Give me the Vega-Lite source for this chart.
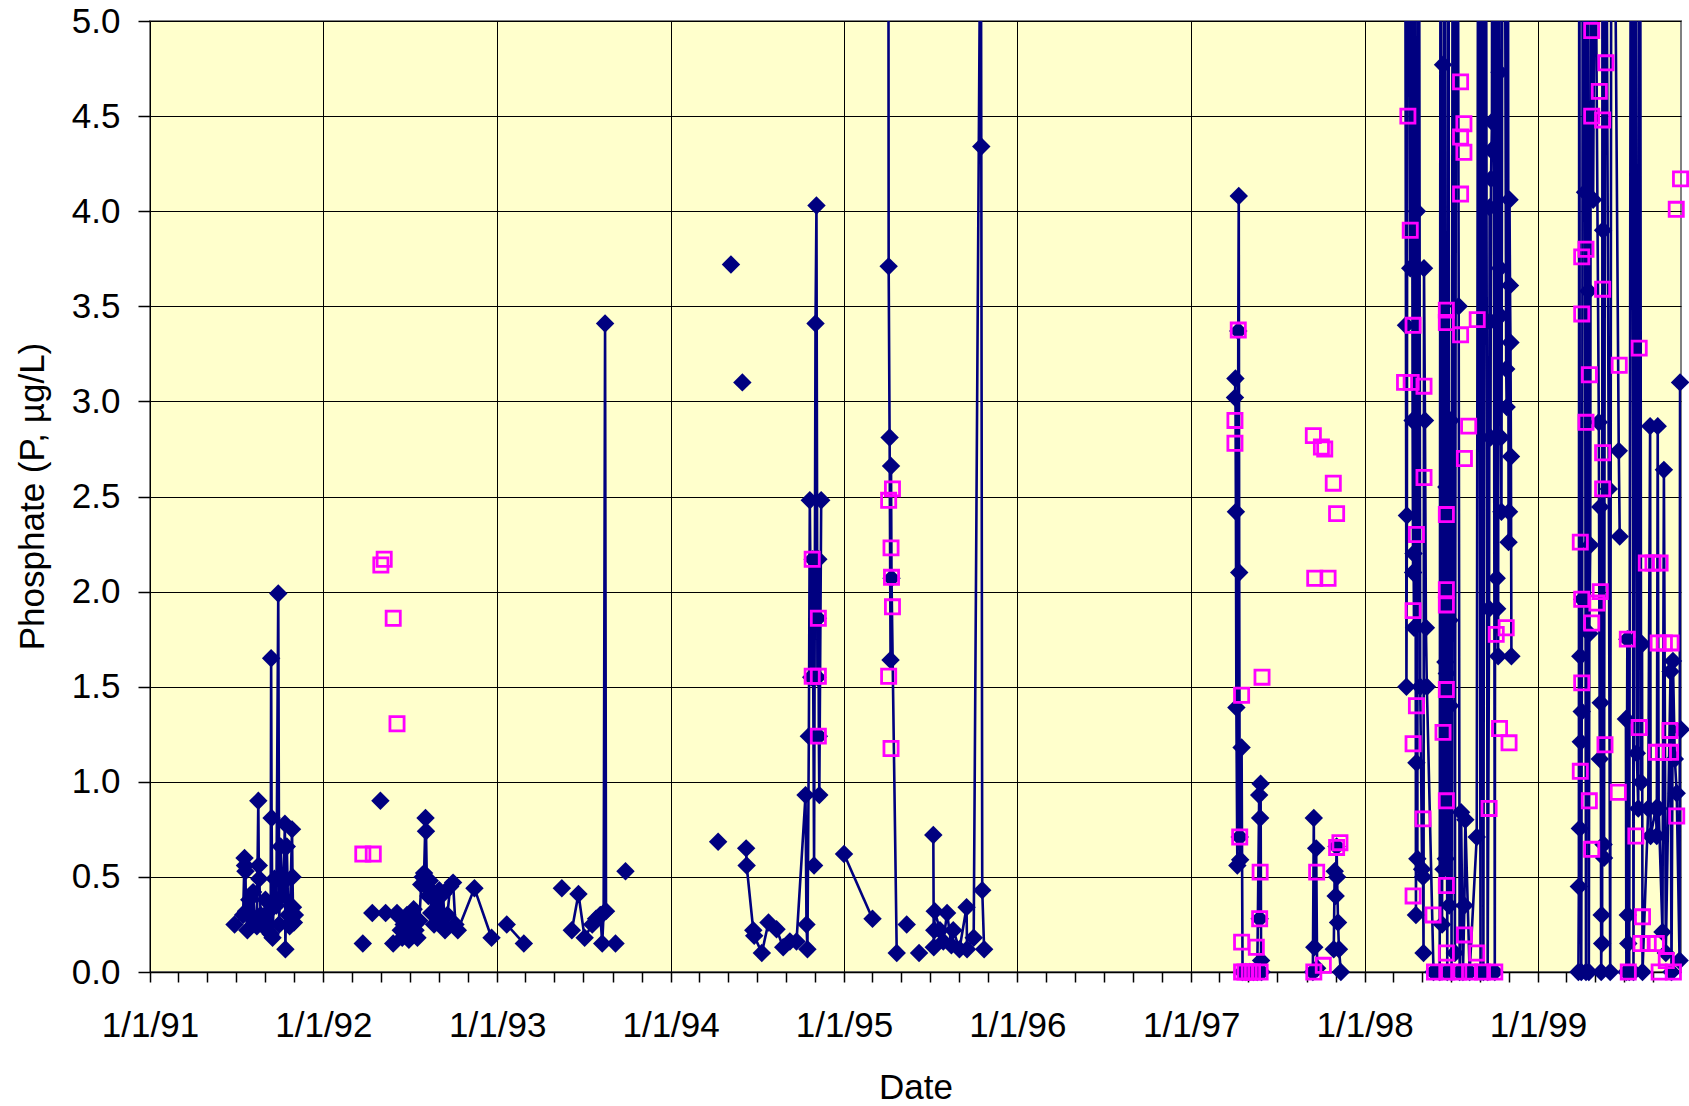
{
 "$schema": "https://vega.github.io/schema/vega-lite/v6.json",
 "width": 1531, "height": 951,
 "autosize": {"type": "none"},
 "padding": {"left": 150, "top": 21, "right": 8, "bottom": 134},
 "background": "white",
 "config": {
  "view": {"fill": "#FFFFCC", "stroke": "#808080", "strokeWidth": 2},
  "font": "Liberation Sans",
  "axis": {"labelFont": "Liberation Sans", "titleFont": "Liberation Sans", "labelColor": "black", "titleColor": "black", "labelFontSize": 35, "titleFontSize": 35, "titleFontWeight": "normal", "tickColor": "black", "gridColor": "black", "gridWidth": 1, "gridOpacity": 1, "domainColor": "black"}
 },
 "datasets": {
  "navy": [
   {"date":"1991-06-28","P":0.25,"seg":"A"},{"date":"1991-07-16","P":0.30,"seg":"A"},{"date":"1991-07-19","P":0.60,"seg":"A"},{"date":"1991-07-20","P":0.56,"seg":"A"},{"date":"1991-07-21","P":0.53,"seg":"A"},{"date":"1991-07-22","P":0.32,"seg":"A"},{"date":"1991-07-25","P":0.22,"seg":"A"},{"date":"1991-07-29","P":0.38,"seg":"A"},{"date":"1991-08-02","P":0.30,"seg":"A"},{"date":"1991-08-06","P":0.42,"seg":"A"},{"date":"1991-08-10","P":0.27,"seg":"A"},{"date":"1991-08-14","P":0.24,"seg":"A"},{"date":"1991-08-17","P":0.90,"seg":"A"},{"date":"1991-08-18","P":0.56,"seg":"A"},{"date":"1991-08-19","P":0.49,"seg":"A"},{"date":"1991-08-22","P":0.30,"seg":"A"},{"date":"1991-08-27","P":0.25,"seg":"A"},{"date":"1991-09-01","P":0.38,"seg":"A"},{"date":"1991-09-05","P":0.22,"seg":"A"},{"date":"1991-09-09","P":0.32,"seg":"A"},{"date":"1991-09-12","P":0.20,"seg":"A"},{"date":"1991-09-13","P":1.65,"seg":"A"},{"date":"1991-09-14","P":0.81,"seg":"A"},{"date":"1991-09-16","P":0.18,"seg":"A"},{"date":"1991-09-20","P":0.49,"seg":"A"},{"date":"1991-09-24","P":0.35,"seg":"A"},{"date":"1991-09-28","P":1.99,"seg":"A"},{"date":"1991-09-30","P":0.25,"seg":"A"},{"date":"1991-10-03","P":0.66,"seg":"A"},{"date":"1991-10-06","P":0.40,"seg":"A"},{"date":"1991-10-09","P":0.47,"seg":"A"},{"date":"1991-10-12","P":0.78,"seg":"A"},{"date":"1991-10-13","P":0.12,"seg":"A"},{"date":"1991-10-16","P":0.66,"seg":"A"},{"date":"1991-10-19","P":0.30,"seg":"A"},{"date":"1991-10-22","P":0.24,"seg":"A"},{"date":"1991-10-27","P":0.75,"seg":"A"},{"date":"1991-10-28","P":0.50,"seg":"A"},{"date":"1991-10-29","P":0.34,"seg":"A"},{"date":"1991-10-31","P":0.26,"seg":"A"},{"date":"1991-11-02","P":0.30,"seg":"A"},
   {"date":"1992-03-24","P":0.15,"seg":"i1"},{"date":"1992-04-13","P":0.31,"seg":"i2"},{"date":"1992-04-30","P":0.90,"seg":"i3"},{"date":"1992-05-11","P":0.31,"seg":"i4"},{"date":"1992-05-27","P":0.15,"seg":"i5"},{"date":"1992-06-04","P":0.31,"seg":"i6"},
   {"date":"1992-06-08","P":0.29,"seg":"B"},{"date":"1992-06-12","P":0.22,"seg":"B"},{"date":"1992-06-15","P":0.18,"seg":"B"},{"date":"1992-06-18","P":0.25,"seg":"B"},{"date":"1992-06-22","P":0.20,"seg":"B"},{"date":"1992-06-25","P":0.30,"seg":"B"},{"date":"1992-06-29","P":0.17,"seg":"B"},{"date":"1992-07-02","P":0.24,"seg":"B"},{"date":"1992-07-06","P":0.19,"seg":"B"},{"date":"1992-07-09","P":0.33,"seg":"B"},{"date":"1992-07-13","P":0.22,"seg":"B"},{"date":"1992-07-17","P":0.18,"seg":"B"},{"date":"1992-07-21","P":0.27,"seg":"B"},{"date":"1992-07-25","P":0.46,"seg":"B"},{"date":"1992-07-28","P":0.50,"seg":"B"},{"date":"1992-07-31","P":0.52,"seg":"B"},{"date":"1992-08-03","P":0.81,"seg":"B"},{"date":"1992-08-04","P":0.74,"seg":"B"},{"date":"1992-08-06","P":0.45,"seg":"B"},{"date":"1992-08-09","P":0.40,"seg":"B"},{"date":"1992-08-12","P":0.48,"seg":"B"},{"date":"1992-08-15","P":0.31,"seg":"B"},{"date":"1992-08-18","P":0.42,"seg":"B"},{"date":"1992-08-21","P":0.25,"seg":"B"},{"date":"1992-08-25","P":0.38,"seg":"B"},{"date":"1992-08-28","P":0.30,"seg":"B"},{"date":"1992-09-01","P":0.43,"seg":"B"},{"date":"1992-09-05","P":0.26,"seg":"B"},{"date":"1992-09-09","P":0.41,"seg":"B"},{"date":"1992-09-13","P":0.22,"seg":"B"},{"date":"1992-09-18","P":0.30,"seg":"B"},{"date":"1992-09-24","P":0.45,"seg":"B"},{"date":"1992-09-30","P":0.47,"seg":"B"},{"date":"1992-10-05","P":0.25,"seg":"B"},{"date":"1992-10-10","P":0.22,"seg":"B"},{"date":"1992-11-14","P":0.44,"seg":"B"},{"date":"1992-12-20","P":0.18,"seg":"B"},
   {"date":"1993-01-21","P":0.25,"seg":"C"},{"date":"1993-02-26","P":0.15,"seg":"C"},
   {"date":"1993-05-17","P":0.44,"seg":"i7"},
   {"date":"1993-06-07","P":0.22,"seg":"D"},{"date":"1993-06-21","P":0.41,"seg":"D"},{"date":"1993-07-04","P":0.18,"seg":"D"},{"date":"1993-07-20","P":0.25,"seg":"D"},{"date":"1993-07-28","P":0.28,"seg":"D"},{"date":"1993-08-06","P":0.30,"seg":"D"},{"date":"1993-08-10","P":0.15,"seg":"D"},{"date":"1993-08-13","P":0.31,"seg":"D"},{"date":"1993-08-16","P":3.41,"seg":"D"},{"date":"1993-08-18","P":0.32,"seg":"D"},
   {"date":"1993-09-07","P":0.15,"seg":"i8"},{"date":"1993-09-28","P":0.53,"seg":"i9"},
   {"date":"1994-04-11","P":0.685,"seg":"i10"},{"date":"1994-05-08","P":3.72,"seg":"i11"},{"date":"1994-06-01","P":3.10,"seg":"i12"},
   {"date":"1994-06-09","P":0.65,"seg":"E"},{"date":"1994-06-10","P":0.56,"seg":"E"},{"date":"1994-06-24","P":0.22,"seg":"E"},{"date":"1994-06-26","P":0.19,"seg":"E"},{"date":"1994-07-12","P":0.10,"seg":"E"},{"date":"1994-07-26","P":0.26,"seg":"E"},{"date":"1994-08-12","P":0.225,"seg":"E"},{"date":"1994-08-26","P":0.13,"seg":"E"},{"date":"1994-09-09","P":0.16,"seg":"E"},{"date":"1994-09-23","P":0.16,"seg":"E"},{"date":"1994-10-12","P":0.93,"seg":"E"},{"date":"1994-10-14","P":0.25,"seg":"E"},{"date":"1994-10-16","P":0.12,"seg":"E"},{"date":"1994-10-19","P":1.24,"seg":"E"},{"date":"1994-10-21","P":2.48,"seg":"E"},{"date":"1994-10-24","P":1.55,"seg":"E"},{"date":"1994-10-27","P":2.17,"seg":"E"},{"date":"1994-10-30","P":0.56,"seg":"E"},{"date":"1994-11-02","P":3.41,"seg":"E"},{"date":"1994-11-04","P":4.03,"seg":"E"},{"date":"1994-11-06","P":1.55,"seg":"E"},{"date":"1994-11-07","P":1.86,"seg":"E"},{"date":"1994-11-08","P":2.17,"seg":"E"},{"date":"1994-11-09","P":1.24,"seg":"E"},{"date":"1994-11-10","P":0.93,"seg":"E"},{"date":"1994-11-14","P":2.48,"seg":"E"},
   {"date":"1995-01-01","P":0.62,"seg":"F"},{"date":"1995-03-02","P":0.28,"seg":"F"},
   {"date":"1995-04-04","P":7.5,"seg":"G"},{"date":"1995-04-05","P":3.71,"seg":"G"},{"date":"1995-04-07","P":2.81,"seg":"G"},{"date":"1995-04-09","P":1.64,"seg":"G"},{"date":"1995-04-10","P":2.66,"seg":"G"},{"date":"1995-04-11","P":2.07,"seg":"G"},{"date":"1995-04-22","P":0.10,"seg":"G"},
   {"date":"1995-05-13","P":0.25,"seg":"i13"},{"date":"1995-06-08","P":0.10,"seg":"i14"},
   {"date":"1995-07-08","P":0.72,"seg":"H"},{"date":"1995-07-09","P":0.13,"seg":"H"},{"date":"1995-07-10","P":0.22,"seg":"H"},{"date":"1995-07-11","P":0.32,"seg":"H"},{"date":"1995-07-22","P":0.22,"seg":"H"},{"date":"1995-07-29","P":0.16,"seg":"H"},{"date":"1995-08-06","P":0.31,"seg":"H"},{"date":"1995-08-15","P":0.14,"seg":"H"},{"date":"1995-08-19","P":0.22,"seg":"H"},{"date":"1995-09-01","P":0.12,"seg":"H"},{"date":"1995-09-16","P":0.34,"seg":"H"},{"date":"1995-09-17","P":0.12,"seg":"H"},{"date":"1995-10-01","P":0.18,"seg":"H"},{"date":"1995-10-16","P":6.0,"seg":"H"},{"date":"1995-10-17","P":4.34,"seg":"H"},{"date":"1995-10-19","P":0.43,"seg":"H"},{"date":"1995-10-23","P":0.12,"seg":"H"},
   {"date":"1997-04-03","P":3.02,"seg":"I"},{"date":"1997-04-04","P":3.12,"seg":"I"},{"date":"1997-04-05","P":2.42,"seg":"I"},{"date":"1997-04-06","P":1.39,"seg":"I"},{"date":"1997-04-08","P":0.56,"seg":"I"},{"date":"1997-04-10","P":3.37,"seg":"I"},{"date":"1997-04-11","P":4.08,"seg":"I"},{"date":"1997-04-12","P":2.10,"seg":"I"},{"date":"1997-04-13","P":0.71,"seg":"I"},{"date":"1997-04-14","P":0.59,"seg":"I"},{"date":"1997-04-17","P":1.18,"seg":"I"},{"date":"1997-04-19","P":0.0,"seg":"I"},{"date":"1997-04-26","P":0.0,"seg":"I"},{"date":"1997-05-04","P":0.0,"seg":"I"},{"date":"1997-05-12","P":0.0,"seg":"I"},{"date":"1997-05-20","P":0.0,"seg":"I"},{"date":"1997-05-24","P":0.93,"seg":"I"},{"date":"1997-05-25","P":0.28,"seg":"I"},{"date":"1997-05-26","P":0.81,"seg":"I"},{"date":"1997-05-27","P":0.99,"seg":"I"},{"date":"1997-05-28","P":0.06,"seg":"I"},{"date":"1997-05-29","P":0.0,"seg":"I"},
   {"date":"1997-09-14","P":0.0,"seg":"J"},{"date":"1997-09-16","P":0.81,"seg":"J"},{"date":"1997-09-17","P":0.13,"seg":"J"},{"date":"1997-09-21","P":0.65,"seg":"J"},{"date":"1997-09-23","P":0.02,"seg":"J"},
   {"date":"1997-10-28","P":0.12,"seg":"K"},{"date":"1997-10-30","P":0.53,"seg":"K"},{"date":"1997-11-01","P":0.40,"seg":"K"},{"date":"1997-11-03","P":0.66,"seg":"K"},{"date":"1997-11-04","P":0.50,"seg":"K"},{"date":"1997-11-06","P":0.26,"seg":"K"},{"date":"1997-11-08","P":0.12,"seg":"K"},{"date":"1997-11-12","P":0.0,"seg":"K"},
   {"date":"1998-03-26","P":8.0,"seg":"L"},{"date":"1998-03-29","P":3.40,"seg":"L"},{"date":"1998-03-30","P":1.50,"seg":"L"},{"date":"1998-03-31","P":2.40,"seg":"L"},{"date":"1998-04-02","P":9.0,"seg":"L"},{"date":"1998-04-04","P":7.0,"seg":"L"},{"date":"1998-04-07","P":3.70,"seg":"L"},{"date":"1998-04-09","P":8.5,"seg":"L"},{"date":"1998-04-12","P":2.90,"seg":"L"},{"date":"1998-04-13","P":2.10,"seg":"L"},{"date":"1998-04-14","P":2.20,"seg":"L"},{"date":"1998-04-15","P":1.81,"seg":"L"},{"date":"1998-04-17","P":6.5,"seg":"L"},{"date":"1998-04-19","P":0.30,"seg":"L"},{"date":"1998-04-20","P":1.10,"seg":"L"},{"date":"1998-04-21","P":4.00,"seg":"L"},{"date":"1998-04-22","P":0.595,"seg":"L"},{"date":"1998-04-24","P":9.0,"seg":"L"},{"date":"1998-04-28","P":1.50,"seg":"L"},{"date":"1998-05-02","P":0.54,"seg":"L"},{"date":"1998-05-04","P":0.50,"seg":"L"},{"date":"1998-05-05","P":0.10,"seg":"L"},{"date":"1998-05-06","P":3.70,"seg":"L"},{"date":"1998-05-08","P":2.90,"seg":"L"},{"date":"1998-05-10","P":1.81,"seg":"L"},{"date":"1998-05-12","P":1.50,"seg":"L"},{"date":"1998-05-26","P":0.0,"seg":"L"},{"date":"1998-06-08","P":0.0,"seg":"L"},
   {"date":"1998-06-10","P":7.0,"seg":"L"},{"date":"1998-06-13","P":0.25,"seg":"L"},{"date":"1998-06-15","P":4.77,"seg":"L"},{"date":"1998-06-16","P":0.54,"seg":"L"},{"date":"1998-06-18","P":8.5,"seg":"L"},{"date":"1998-06-20","P":1.63,"seg":"L"},{"date":"1998-06-21","P":0.595,"seg":"L"},{"date":"1998-06-22","P":2.55,"seg":"L"},{"date":"1998-06-23","P":1.57,"seg":"L"},{"date":"1998-06-24","P":0.0,"seg":"L"},{"date":"1998-06-26","P":9.0,"seg":"L"},{"date":"1998-06-28","P":0.35,"seg":"L"},{"date":"1998-06-29","P":1.85,"seg":"L"},{"date":"1998-06-30","P":1.40,"seg":"L"},{"date":"1998-07-01","P":2.90,"seg":"L"},{"date":"1998-07-03","P":0.0,"seg":"L"},{"date":"1998-07-06","P":8.0,"seg":"L"},{"date":"1998-07-10","P":0.10,"seg":"L"},{"date":"1998-07-14","P":9.0,"seg":"L"},{"date":"1998-07-18","P":3.50,"seg":"L"},{"date":"1998-07-20","P":0.0,"seg":"L"},{"date":"1998-07-23","P":0.84,"seg":"L"},{"date":"1998-07-27","P":0.0,"seg":"L"},{"date":"1998-07-30","P":0.35,"seg":"L"},{"date":"1998-08-01","P":0.80,"seg":"L"},{"date":"1998-08-10","P":0.0,"seg":"L"},{"date":"1998-08-25","P":0.71,"seg":"L"},
   {"date":"1998-08-29","P":8.0,"seg":"L"},{"date":"1998-09-02","P":0.0,"seg":"L"},{"date":"1998-09-05","P":9.0,"seg":"L"},{"date":"1998-09-08","P":0.0,"seg":"L"},{"date":"1998-09-12","P":8.5,"seg":"L"},{"date":"1998-09-17","P":0.0,"seg":"L"},{"date":"1998-09-20","P":1.91,"seg":"L"},{"date":"1998-09-21","P":4.02,"seg":"L"},{"date":"1998-09-22","P":3.42,"seg":"L"},{"date":"1998-09-23","P":2.81,"seg":"L"},{"date":"1998-09-24","P":4.17,"seg":"L"},{"date":"1998-09-25","P":4.32,"seg":"L"},{"date":"1998-09-26","P":4.47,"seg":"L"},{"date":"1998-09-28","P":9.0,"seg":"L"},{"date":"1998-10-02","P":0.0,"seg":"L"},{"date":"1998-10-04","P":7.5,"seg":"L"},{"date":"1998-10-06","P":2.07,"seg":"L"},{"date":"1998-10-07","P":1.91,"seg":"L"},{"date":"1998-10-09","P":1.66,"seg":"L"},{"date":"1998-10-11","P":8.0,"seg":"L"},{"date":"1998-10-12","P":4.73,"seg":"L"},{"date":"1998-10-13","P":3.70,"seg":"L"},{"date":"1998-10-14","P":3.45,"seg":"L"},{"date":"1998-10-15","P":2.81,"seg":"L"},{"date":"1998-10-16","P":2.42,"seg":"L"},{"date":"1998-10-20","P":9.0,"seg":"L"},{"date":"1998-10-26","P":3.17,"seg":"L"},{"date":"1998-10-27","P":2.97,"seg":"L"},{"date":"1998-10-29","P":8.0,"seg":"L"},{"date":"1998-10-31","P":2.26,"seg":"L"},{"date":"1998-11-01","P":2.42,"seg":"L"},{"date":"1998-11-02","P":4.06,"seg":"L"},{"date":"1998-11-03","P":3.61,"seg":"L"},{"date":"1998-11-04","P":3.31,"seg":"L"},{"date":"1998-11-05","P":2.71,"seg":"L"},{"date":"1998-11-06","P":1.66,"seg":"L"},
   {"date":"1999-03-27","P":0.0,"seg":"O1"},{"date":"1999-03-28","P":0.45,"seg":"O1"},{"date":"1999-03-29","P":8.0,"seg":"O1"},{"date":"1999-03-30","P":0.755,"seg":"O1"},{"date":"1999-03-31","P":1.66,"seg":"O1"},{"date":"1999-04-01","P":1.21,"seg":"O1"},{"date":"1999-04-02","P":0.0,"seg":"O1"},{"date":"1999-04-03","P":1.37,"seg":"O1"},{"date":"1999-04-04","P":1.96,"seg":"O1"},{"date":"1999-04-06","P":9.0,"seg":"O1"},{"date":"1999-04-10","P":4.10,"seg":"O1"},{"date":"1999-04-12","P":0.0,"seg":"O1"},{"date":"1999-04-14","P":7.5,"seg":"O1"},{"date":"1999-04-17","P":3.58,"seg":"O1"},{"date":"1999-04-18","P":0.0,"seg":"O1"},{"date":"1999-04-19","P":1.78,"seg":"O1"},{"date":"1999-04-21","P":2.245,"seg":"O1"},{"date":"1999-04-23","P":8.5,"seg":"O1"},{"date":"1999-04-27","P":4.06,"seg":"O1"},{"date":"1999-05-01","P":6.0,"seg":"O1"},{"date":"1999-05-09","P":2.89,"seg":"O1"},{"date":"1999-05-11","P":1.12,"seg":"O1"},{"date":"1999-05-12","P":2.445,"seg":"O1"},{"date":"1999-05-13","P":1.415,"seg":"O1"},{"date":"1999-05-14","P":0.0,"seg":"O1"},{"date":"1999-05-15","P":0.30,"seg":"O1"},{"date":"1999-05-16","P":0.15,"seg":"O1"},{"date":"1999-05-17","P":9.0,"seg":"O1"},{"date":"1999-05-18","P":3.90,"seg":"O1"},{"date":"1999-05-19","P":0.67,"seg":"O1"},{"date":"1999-05-20","P":0.60,"seg":"O1"},{"date":"1999-05-23","P":7.0,"seg":"O1"},{"date":"1999-05-30","P":2.54,"seg":"O1"},{"date":"1999-06-02","P":0.0,"seg":"O1"},{"date":"1999-06-05","P":8.0,"seg":"O1"},{"date":"1999-06-20","P":2.74,"seg":"O1"},{"date":"1999-06-22","P":2.29,"seg":"O1"},
   {"date":"1999-07-05","P":1.33,"seg":"O2"},{"date":"1999-07-06","P":0.0,"seg":"O2"},{"date":"1999-07-08","P":1.75,"seg":"O2"},{"date":"1999-07-09","P":0.30,"seg":"O2"},{"date":"1999-07-10","P":0.15,"seg":"O2"},{"date":"1999-07-12","P":0.0,"seg":"O2"},{"date":"1999-07-17","P":9.0,"seg":"O2"},{"date":"1999-07-21","P":0.0,"seg":"O2"},{"date":"1999-07-25","P":8.5,"seg":"O2"},{"date":"1999-07-28","P":1.15,"seg":"O2"},{"date":"1999-07-31","P":0.86,"seg":"O2"},{"date":"1999-08-03","P":9.0,"seg":"O2"},{"date":"1999-08-06","P":0.998,"seg":"O2"},{"date":"1999-08-08","P":1.725,"seg":"O2"},{"date":"1999-08-09","P":0.0,"seg":"O2"},{"date":"1999-08-21","P":0.86,"seg":"O2"},{"date":"1999-08-25","P":2.87,"seg":"O2"},{"date":"1999-08-26","P":0.715,"seg":"O2"},{"date":"1999-09-06","P":0.86,"seg":"O2"},{"date":"1999-09-08","P":0.715,"seg":"O2"},{"date":"1999-09-10","P":2.87,"seg":"O2"},{"date":"1999-09-12","P":0.86,"seg":"O2"},{"date":"1999-09-20","P":0.21,"seg":"O2"},{"date":"1999-09-23","P":2.64,"seg":"O2"},{"date":"1999-09-27","P":0.10,"seg":"O2"},{"date":"1999-10-07","P":1.58,"seg":"O2"},{"date":"1999-10-09","P":0.0,"seg":"O2"},{"date":"1999-10-12","P":1.635,"seg":"O2"},{"date":"1999-10-16","P":1.12,"seg":"O2"},{"date":"1999-10-20","P":0.94,"seg":"O2"},{"date":"1999-10-26","P":0.06,"seg":"O2"},{"date":"1999-10-27","P":3.10,"seg":"O2"},{"date":"1999-10-29","P":1.275,"seg":"O2"}
  ],
  "pink": [
   {"date":"1992-03-24","P":0.62},{"date":"1992-04-15","P":0.62},{"date":"1992-05-01","P":2.14},{"date":"1992-05-08","P":2.17},{"date":"1992-05-27","P":1.86},{"date":"1992-06-04","P":1.305},
   {"date":"1994-10-26","P":2.17},{"date":"1994-11-08","P":1.86},{"date":"1994-10-26","P":1.555},{"date":"1994-11-08","P":1.555},{"date":"1994-11-08","P":1.24},
   {"date":"1995-04-13","P":2.54},{"date":"1995-04-05","P":2.48},{"date":"1995-04-10","P":2.23},{"date":"1995-04-11","P":2.075},{"date":"1995-04-13","P":1.92},{"date":"1995-04-05","P":1.555},{"date":"1995-04-10","P":1.175},
   {"date":"1997-04-10","P":3.375},{"date":"1997-04-03","P":2.90},{"date":"1997-04-03","P":2.78},{"date":"1997-04-17","P":1.455},{"date":"1997-04-13","P":0.71},{"date":"1997-04-17","P":0.157},{"date":"1997-04-17","P":0.0},{"date":"1997-04-24","P":0.0},{"date":"1997-05-03","P":0.0},{"date":"1997-05-10","P":0.0},{"date":"1997-05-18","P":0.13},{"date":"1997-05-26","P":0.0},{"date":"1997-05-30","P":1.55},{"date":"1997-05-26","P":0.525},{"date":"1997-05-25","P":0.28},
   {"date":"1997-09-15","P":2.82},{"date":"1997-10-02","P":2.76},{"date":"1997-10-09","P":2.75},{"date":"1997-10-27","P":2.57},{"date":"1997-11-03","P":2.41},{"date":"1997-09-18","P":2.07},{"date":"1997-10-16","P":2.07},{"date":"1997-09-16","P":0.0},{"date":"1997-09-22","P":0.525},{"date":"1997-10-06","P":0.035},{"date":"1997-11-03","P":0.655},{"date":"1997-11-10","P":0.68},
   {"date":"1998-04-02","P":4.50},{"date":"1998-04-07","P":3.90},{"date":"1998-04-13","P":3.40},{"date":"1998-03-26","P":3.10},{"date":"1998-04-09","P":3.10},{"date":"1998-05-06","P":3.08},{"date":"1998-05-06","P":2.60},{"date":"1998-04-20","P":2.30},{"date":"1998-04-13","P":1.90},{"date":"1998-04-20","P":1.40},{"date":"1998-04-13","P":1.20},{"date":"1998-05-04","P":0.805},{"date":"1998-04-13","P":0.40},{"date":"1998-05-25","P":0.30},{"date":"1998-05-28","P":0.0},
   {"date":"1998-07-22","P":4.68},{"date":"1998-07-29","P":4.46},{"date":"1998-07-22","P":4.39},{"date":"1998-07-29","P":4.31},{"date":"1998-07-22","P":4.09},{"date":"1998-06-22","P":3.48},{"date":"1998-06-22","P":3.415},{"date":"1998-07-22","P":3.35},{"date":"1998-08-26","P":3.43},{"date":"1998-08-08","P":2.87},{"date":"1998-07-30","P":2.70},{"date":"1998-06-22","P":2.405},{"date":"1998-06-22","P":2.01},{"date":"1998-06-22","P":1.93},{"date":"1998-06-22","P":1.485},{"date":"1998-06-15","P":1.26},{"date":"1998-06-22","P":0.90},{"date":"1998-06-22","P":0.455},{"date":"1998-06-22","P":0.10},{"date":"1998-07-30","P":0.195},{"date":"1998-08-25","P":0.10},{"date":"1998-06-23","P":0.0},{"date":"1998-07-18","P":0.0},{"date":"1998-08-10","P":0.0},{"date":"1998-09-06","P":0.0},{"date":"1998-10-02","P":0.0},{"date":"1998-10-05","P":1.775},{"date":"1998-10-26","P":1.81},{"date":"1998-10-12","P":1.28},{"date":"1998-11-01","P":1.205},{"date":"1998-09-20","P":0.86},
   {"date":"1999-04-24","P":4.95},{"date":"1999-05-24","P":4.78},{"date":"1999-05-10","P":4.63},{"date":"1999-04-24","P":4.50},{"date":"1999-05-17","P":4.48},{"date":"1999-04-12","P":3.80},{"date":"1999-04-03","P":3.76},{"date":"1999-05-17","P":3.59},{"date":"1999-04-03","P":3.46},{"date":"1999-04-19","P":3.14},{"date":"1999-04-12","P":2.89},{"date":"1999-05-17","P":2.73},{"date":"1999-05-17","P":2.54},{"date":"1999-03-31","P":2.26},{"date":"1999-05-12","P":2.00},{"date":"1999-04-03","P":1.96},{"date":"1999-05-05","P":1.94},{"date":"1999-04-24","P":1.835},{"date":"1999-04-03","P":1.52},{"date":"1999-05-22","P":1.195},{"date":"1999-03-31","P":1.055},{"date":"1999-04-19","P":0.90},{"date":"1999-04-24","P":0.645},
   {"date":"1999-06-21","P":3.19},{"date":"1999-06-19","P":0.945},{"date":"1999-10-28","P":4.17},{"date":"1999-10-19","P":4.01},{"date":"1999-08-02","P":3.28},{"date":"1999-08-17","P":2.15},{"date":"1999-08-31","P":2.15},{"date":"1999-09-15","P":2.15},{"date":"1999-07-08","P":1.75},{"date":"1999-09-11","P":1.73},{"date":"1999-09-24","P":1.73},{"date":"1999-10-08","P":1.73},{"date":"1999-08-02","P":1.285},{"date":"1999-10-06","P":1.27},{"date":"1999-09-07","P":1.155},{"date":"1999-09-22","P":1.155},{"date":"1999-10-07","P":1.155},{"date":"1999-10-20","P":0.82},{"date":"1999-07-26","P":0.715},{"date":"1999-08-09","P":0.29},{"date":"1999-08-06","P":0.15},{"date":"1999-08-21","P":0.15},{"date":"1999-09-07","P":0.15},{"date":"1999-09-28","P":0.06},{"date":"1999-07-10","P":0.0},{"date":"1999-09-13","P":0.0},{"date":"1999-10-13","P":0.0}
  ]
 },
 "encoding": {
  "x": {
   "field": "date", "type": "temporal", "title": "Date",
   "scale": {"type": "utc", "nice": false, "domain": [{"year": 1991, "month": 1, "date": 1, "utc": true}, {"year": 1999, "month": 10, "date": 29, "utc": true}]},
   "axis": {
    "tickCount": {"interval": "month", "step": 2},
    "labelExpr": "utcmonth(datum.value) == 0 ? utcFormat(datum.value, '%-m/%-d/%y') : ''",
    "labelOverlap": false, "labelFlush": false, "labelPadding": 26,
    "tickSize": 10, "tickWidth": 1.5, "domainWidth": 1.5,
    "gridOpacity": {"condition": {"test": "utcmonth(datum.value) == 0", "value": 1}, "value": 0},
    "titleY": 115, "titleBaseline": "middle"
   }
  },
  "y": {
   "field": "P", "type": "quantitative", "title": "Phosphate (P, µg/L)",
   "scale": {"domain": [0, 5], "nice": false},
   "axis": {
    "values": [0, 0.5, 1, 1.5, 2, 2.5, 3, 3.5, 4, 4.5, 5],
    "format": ".1f", "tickSize": 12, "tickWidth": 1.5, "labelPadding": 18, "domain": false,
    "labelFlush": false,
    "titleX": -118, "titleY": 475, "titleAngle": -90, "titleBaseline": "middle", "titleAlign": "center"
   }
  }
 },
 "layer": [
  {"data": {"name": "navy"}, "mark": {"type": "line", "color": "#000080", "strokeWidth": 2.6, "strokeJoin": "round", "clip": true},
   "encoding": {"detail": {"field": "seg", "type": "nominal"}}},
  {"data": {"name": "navy"}, "transform": [{"filter": "datum.P <= 5"}],
   "mark": {"type": "point", "shape": "diamond", "filled": true, "color": "#000080", "size": 340, "opacity": 1}},
  {"data": {"name": "pink"},
   "mark": {"type": "point", "shape": "square", "filled": false, "color": "#FF00FF", "strokeWidth": 2.8, "size": 200, "opacity": 1}}
 ]
}
